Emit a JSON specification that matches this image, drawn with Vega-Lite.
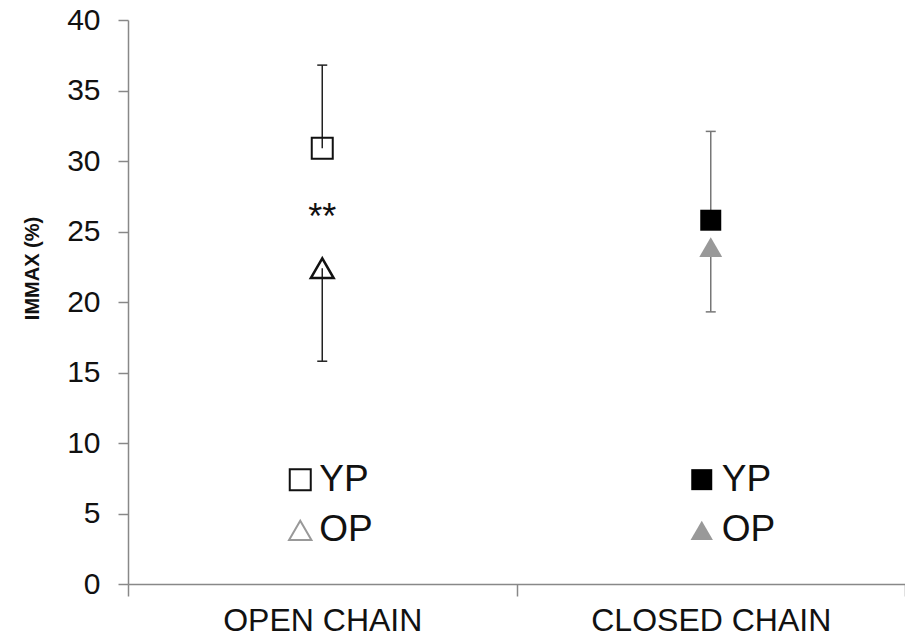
{
  "$schema": "https://vega.github.io/schema/vega-lite/v6.json",
  "width": 777,
  "height": 564,
  "autosize": {"type": "none"},
  "padding": {"left": 128, "top": 20, "right": 0, "bottom": 54},
  "background": "white",
  "config": {
    "view": {"stroke": null},
    "font": "Liberation Sans"
  },
  "datasets": {
    "stats": [
      {"group": "OPEN CHAIN", "series": "YP", "mean": 30.9, "bar_end": 36.8},
      {"group": "OPEN CHAIN", "series": "OP", "mean": 22.4, "bar_end": 15.8},
      {"group": "CLOSED CHAIN", "series": "YP", "mean": 25.8, "bar_end": 32.1},
      {"group": "CLOSED CHAIN", "series": "OP", "mean": 23.9, "bar_end": 19.3}
    ],
    "legend": [
      {"group": "OPEN CHAIN", "series": "YP", "level": 7.4},
      {"group": "OPEN CHAIN", "series": "OP", "level": 3.8},
      {"group": "CLOSED CHAIN", "series": "YP", "level": 7.4},
      {"group": "CLOSED CHAIN", "series": "OP", "level": 3.8}
    ],
    "notes": [{"group": "OPEN CHAIN", "label": "**", "level": 25.2}]
  },
  "encoding": {
    "x": {
      "field": "group", "type": "nominal", "sort": ["OPEN CHAIN", "CLOSED CHAIN"],
      "scale": {"domain": ["OPEN CHAIN", "CLOSED CHAIN"], "paddingInner": 0, "paddingOuter": 0},
      "axis": {"title": null, "domainColor": "#888", "domainWidth": 1.5, "tickColor": "#888", "tickWidth": 1.5, "tickSize": 12, "tickBand": "extent", "labelFont": "Liberation Sans", "labelFontSize": 32, "labelColor": "#111", "labelPadding": 9, "labelAngle": 0, "labelLimit": 0, "grid": false}
    }
  },
  "layer": [
    {
      "data": {"name": "stats"},
      "mark": {"type": "rule", "strokeWidth": 1.5},
      "encoding": {
        "y": {
          "field": "mean", "type": "quantitative", "scale": {"domain": [0, 40], "nice": false},
          "axis": {"title": "IMMAX (%)", "values": [0, 5, 10, 15, 20, 25, 30, 35, 40], "domainColor": "#888", "domainWidth": 1.5, "tickColor": "#888", "tickWidth": 1.5, "tickSize": 10, "labelFont": "Liberation Sans", "labelFontSize": 30, "labelColor": "#111", "labelPadding": 18, "labelOverlap": false, "grid": false, "titleFont": "Liberation Sans", "titleFontSize": 20, "titleFontWeight": "bold", "titleColor": "#111", "titleX": -86, "titleY": 248, "titleAngle": -90}
        },
        "y2": {"field": "bar_end"},
        "color": {"field": "group", "type": "nominal", "scale": {"domain": ["OPEN CHAIN", "CLOSED CHAIN"], "range": ["#222", "#777"]}, "legend": null}
      }
    },
    {
      "data": {"name": "stats"},
      "mark": {"type": "tick", "orient": "horizontal", "size": 10, "thickness": 1.5, "opacity": 1},
      "encoding": {
        "y": {"field": "bar_end", "type": "quantitative", "axis": {"title": "IMMAX (%)"}},
        "color": {"field": "group", "type": "nominal", "legend": null}
      }
    },
    {
      "data": {"name": "stats"},
      "transform": [{"filter": "datum.group == 'OPEN CHAIN' && datum.series == 'YP'"}],
      "mark": {"type": "point", "shape": "square", "size": 441, "filled": false, "stroke": "#111", "strokeWidth": 2, "opacity": 1},
      "encoding": {"y": {"field": "mean", "type": "quantitative", "axis": {"title": "IMMAX (%)"}}}
    },
    {
      "data": {"name": "stats"},
      "transform": [{"filter": "datum.group == 'OPEN CHAIN' && datum.series == 'OP'"}],
      "mark": {"type": "point", "shape": "triangle-up", "size": 520, "filled": false, "stroke": "#111", "strokeWidth": 2.5, "opacity": 1},
      "encoding": {"y": {"field": "mean", "type": "quantitative", "axis": {"title": "IMMAX (%)"}}}
    },
    {
      "data": {"name": "stats"},
      "transform": [{"filter": "datum.group == 'CLOSED CHAIN' && datum.series == 'YP'"}],
      "mark": {"type": "point", "shape": "square", "size": 441, "filled": true, "fill": "#000", "opacity": 1},
      "encoding": {"y": {"field": "mean", "type": "quantitative", "axis": {"title": "IMMAX (%)"}}}
    },
    {
      "data": {"name": "stats"},
      "transform": [{"filter": "datum.group == 'CLOSED CHAIN' && datum.series == 'OP'"}],
      "mark": {"type": "point", "shape": "triangle-up", "size": 520, "filled": true, "fill": "#999", "opacity": 1},
      "encoding": {"y": {"field": "mean", "type": "quantitative", "axis": {"title": "IMMAX (%)"}}}
    },
    {
      "data": {"name": "notes"},
      "mark": {"type": "text", "fontSize": 36, "align": "center", "baseline": "alphabetic", "color": "#111"},
      "encoding": {"y": {"field": "level", "type": "quantitative", "axis": {"title": "IMMAX (%)"}}, "text": {"field": "label"}}
    },
    {
      "data": {"name": "legend"},
      "transform": [{"filter": "datum.group == 'OPEN CHAIN' && datum.series == 'YP'"}],
      "mark": {"type": "point", "shape": "square", "size": 441, "filled": false, "stroke": "#111", "strokeWidth": 2, "opacity": 1, "xOffset": -22},
      "encoding": {"y": {"field": "level", "type": "quantitative", "axis": {"title": "IMMAX (%)"}}}
    },
    {
      "data": {"name": "legend"},
      "transform": [{"filter": "datum.group == 'OPEN CHAIN' && datum.series == 'OP'"}],
      "mark": {"type": "point", "shape": "triangle-up", "size": 500, "filled": false, "stroke": "#999", "strokeWidth": 2, "opacity": 1, "xOffset": -22},
      "encoding": {"y": {"field": "level", "type": "quantitative", "axis": {"title": "IMMAX (%)"}}}
    },
    {
      "data": {"name": "legend"},
      "transform": [{"filter": "datum.group == 'CLOSED CHAIN' && datum.series == 'YP'"}],
      "mark": {"type": "point", "shape": "square", "size": 441, "filled": true, "fill": "#000", "opacity": 1, "xOffset": -9},
      "encoding": {"y": {"field": "level", "type": "quantitative", "axis": {"title": "IMMAX (%)"}}}
    },
    {
      "data": {"name": "legend"},
      "transform": [{"filter": "datum.group == 'CLOSED CHAIN' && datum.series == 'OP'"}],
      "mark": {"type": "point", "shape": "triangle-up", "size": 500, "filled": true, "fill": "#999", "opacity": 1, "xOffset": -9},
      "encoding": {"y": {"field": "level", "type": "quantitative", "axis": {"title": "IMMAX (%)"}}}
    },
    {
      "data": {"name": "legend"},
      "transform": [{"filter": "datum.group == 'OPEN CHAIN'"}],
      "mark": {"type": "text", "fontSize": 37, "align": "left", "baseline": "middle", "dx": -3, "color": "#111"},
      "encoding": {"y": {"field": "level", "type": "quantitative", "axis": {"title": "IMMAX (%)"}}, "text": {"field": "series"}}
    },
    {
      "data": {"name": "legend"},
      "transform": [{"filter": "datum.group == 'CLOSED CHAIN'"}],
      "mark": {"type": "text", "fontSize": 37, "align": "left", "baseline": "middle", "dx": 11, "color": "#111"},
      "encoding": {"y": {"field": "level", "type": "quantitative", "axis": {"title": "IMMAX (%)"}}, "text": {"field": "series"}}
    }
  ]
}
